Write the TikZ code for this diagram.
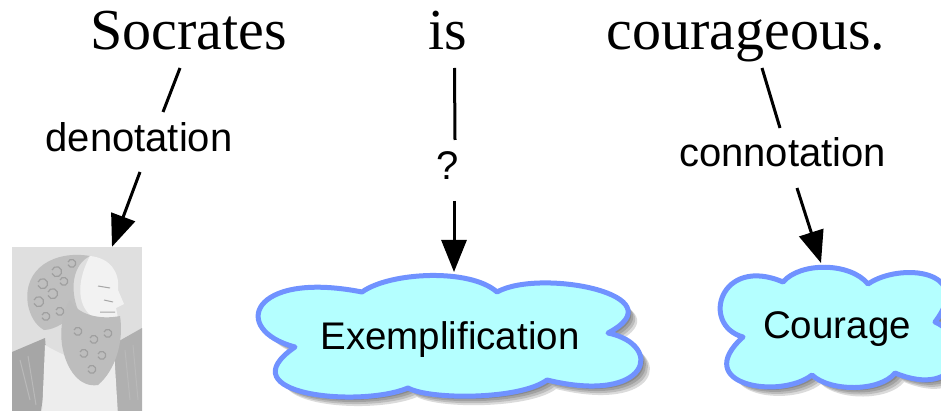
\documentclass[tikz,border=0pt]{standalone}
\usepackage{fontspec}
\setmainfont{Liberation Serif}
\setsansfont{Liberation Sans}
\usetikzlibrary{arrows.meta}
\definecolor{cloudfill}{RGB}{180,255,255}
\definecolor{cloudline}{RGB}{112,146,255}
\begin{document}
\begin{tikzpicture}[x=1pt,y=-1pt,
  word/.style={font=\fontsize{58}{60}\selectfont, inner sep=0pt, anchor=base},
  lbl/.style={font=\sffamily\fontsize{40}{42}\selectfont, inner sep=0pt, anchor=base},
  ideatext/.style={font=\sffamily\fontsize{38.5}{40}\selectfont, inner sep=0pt, anchor=base},
  link/.style={line width=3pt},
  arr/.style={line width=3pt, -{Triangle[length=32pt,width=25pt]}},
  cloudbody/.style={draw=cloudline, fill=cloudfill, line width=5pt, line join=round},
  cloudshade/.style={fill=black, opacity=0.14},
  photo/.style={inner sep=0pt, fill=gray!25, minimum width=130pt, minimum height=170pt}]
\useasboundingbox (0,0) rectangle (941,411);

% cloud outlines
\def\excloud{(362,292) .. controls (390,272) and (470,268) .. (497,292)
   .. controls (540,268) and (680,295) .. (608,333)
   .. controls (665,345) and (650,405) .. (547,380)
   .. controls (520,400) and (430,400) .. (408,388)
   .. controls (360,408) and (225,395) .. (295,347)
   .. controls (230,330) and (250,270) .. (362,292) -- cycle}
\def\cocloud{(783,282) .. controls (800,262) and (850,262) .. (868,284)
   .. controls (900,262) and (975,270) .. (935,322)
   .. controls (975,340) and (960,400) .. (895,373)
   .. controls (880,392) and (830,392) .. (812,375)
   .. controls (780,400) and (690,385) .. (743,337)
   .. controls (700,325) and (720,255) .. (783,282) -- cycle}
\foreach \s in {3,5,7,9}{
  \fill[cloudshade, shift={(\s,\s)}] \excloud;
  \fill[cloudshade, shift={(\s,\s)}] \cocloud;
}
\draw[cloudbody] \excloud;
\draw[cloudbody] \cocloud;
\coordinate (extop) at (454,272);
\coordinate (cotop) at (821,263);

% words
\node[word] (soc) at (188.5,50) {Socrates};
\node[word] (is) at (447.5,50) {is};
\node[word] (cour) at (746,50) {courageous.};

% labels
\node[lbl] (den) at (139,152) {denotation};
\node[lbl] (q) at (448,180) {?};
\node[lbl] (con) at (782.5,167) {connotation};

% cloud texts
\node[ideatext] (ex) at (450,349) {Exemplification};
\node[ideatext] (co) at (837,338) {Courage};

% picture of Socrates (sketch)
\node[photo] (pic) at (77,332) {};
\begin{scope}
  \clip (pic.north west) rectangle (pic.south east);
  \fill[gray!70] (12,352) -- (45,338) .. controls (48,370) and (44,395) .. (40,415) -- (12,415) -- cycle;
  \fill[gray!62] (112,345) -- (142,328) -- (142,415) -- (116,415) -- cycle;
  \fill[gray!14] (45,345) .. controls (70,360) and (100,370) .. (114,350) -- (118,415) -- (42,415) -- cycle;
  \fill[gray!50] (28,305) .. controls (22,268) and (55,250) .. (90,256)
        .. controls (72,265) and (70,290) .. (78,310)
        .. controls (70,320) and (55,330) .. (44,330) .. controls (35,325) and (30,315) .. (28,305) -- cycle;
  \fill[gray!10] (90,256) .. controls (110,258) and (120,272) .. (118,290)
        -- (124,304) -- (116,308) -- (118,318) -- (95,318)
        .. controls (82,312) and (72,290) .. (90,256) -- cycle;
  \fill[gray!52] (70,300) .. controls (78,315) and (100,320) .. (120,316)
        .. controls (124,340) and (116,370) .. (98,385)
        .. controls (80,388) and (66,370) .. (62,345)
        .. controls (60,330) and (62,312) .. (70,300) -- cycle;
  \draw[gray!75, line width=1.2pt]
    (38,282) arc (200:520:5) (52,270) arc (200:520:5) (68,262) arc (200:520:4)
    (34,300) arc (200:520:5) (48,292) arc (200:520:5) (60,280) arc (200:520:4)
    (42,315) arc (200:520:4) (56,310) arc (200:520:4)
    (74,330) arc (200:520:4) (90,338) arc (200:520:4) (104,332) arc (200:520:4)
    (80,352) arc (200:520:4) (98,354) arc (200:520:4) (88,368) arc (200:520:4);
  \draw[gray!70, line width=1pt] (98,286) -- (110,288) (104,300) -- (113,302) (100,312) -- (115,312);
  \draw[gray!55, line width=1pt] (20,360) -- (30,400) (28,356) -- (36,405) (125,350) -- (130,400) (133,345) -- (138,400);
\end{scope}

% connectors
\draw[link] ([shift={(-8.5,18)}]soc.base) -- ([shift={(24,-40)}]den.base);
\draw[arr] ([shift={(1,20)}]den.base) -- ([shift={(35,0)}]pic.north);
\draw[link] ([shift={(7,18)}]is.base) -- ([shift={(7,-40)}]q.base);
\draw[arr] ([shift={(6,21)}]q.base) -- (extop);
\draw[link] ([shift={(-20.5,-99)}]con.base) -- ([shift={(-2.5,-39)}]con.base);
\draw[arr] ([shift={(14.5,21)}]con.base) -- (cotop);
\end{tikzpicture}
\end{document}
